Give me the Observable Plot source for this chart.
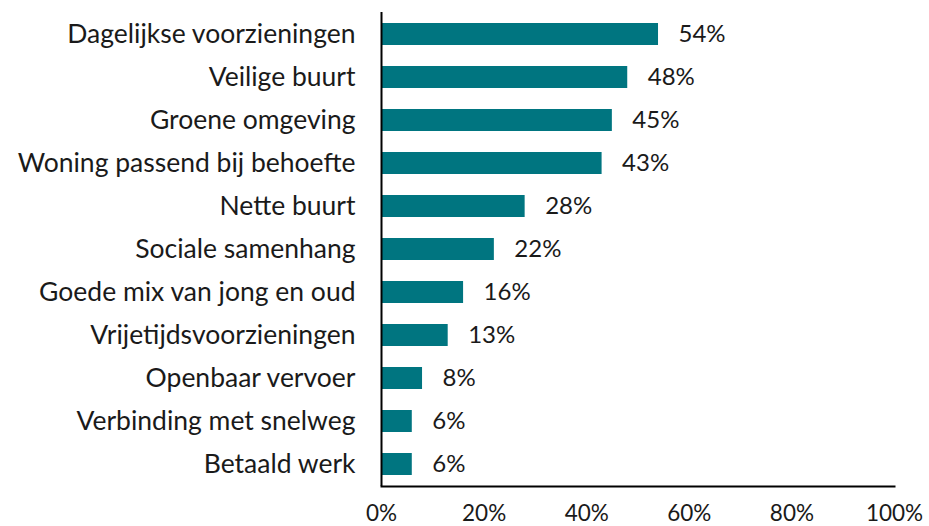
<!DOCTYPE html>
<html>
<head>
<meta charset="utf-8">
<script src="https://cdn.jsdelivr.net/npm/d3@7"></script>
<script src="https://cdn.jsdelivr.net/npm/@observablehq/plot@0.6"></script>
<style>
  html, body { margin: 0; padding: 0; background: #fff; }
  #chart { width: 929px; height: 526px; }
</style>
</head>
<body>
<div id="chart"></div>
<script>
const categories = [
  "Dagelijkse voorzieningen",
  "Veilige buurt",
  "Groene omgeving",
  "Woning passend bij behoefte",
  "Nette buurt",
  "Sociale samenhang",
  "Goede mix van jong en oud",
  "Vrijetijdsvoorzieningen",
  "Openbaar vervoer",
  "Verbinding met snelweg",
  "Betaald werk"
];
const values = [54, 48, 45, 43, 28, 22, 16, 13, 8, 6, 6];
const xTicks = [0, 20, 40, 60, 80, 100];

const data = categories.map((c, i) => ({category: c, value: values[i]}));

const chart = Plot.plot({
  width: 929,
  height: 526,
  marginLeft: 381,
  marginRight: 35,
  marginTop: 12,
  marginBottom: 40,
  style: {fontFamily: "Lato, sans-serif", color: "#1a1a1a", background: "#fff"},
  x: {domain: [0, 100], ticks: xTicks, tickFormat: d => d + "%", tickSize: 0, label: null},
  y: {domain: categories, paddingInner: 0.5, paddingOuter: 0.25, tickSize: 0, label: null},
  marks: [
    Plot.barX(data, {x: "value", y: "category", fill: "#007580"}),
    Plot.text(data, {x: "value", y: "category", text: d => d.value + "%", textAnchor: "start", dx: 20, fontSize: 24, fill: "#1a1a1a"}),
    Plot.ruleX([0], {stroke: "#000", strokeWidth: 2}),
    Plot.frame({anchor: "bottom", stroke: "#000", strokeWidth: 2}),
    Plot.axisX({ticks: xTicks, tickFormat: d => d + "%", tickSize: 0, tickPadding: 19, fontSize: 22.5, label: null}),
    Plot.axisY({tickSize: 0, tickPadding: 26, fontSize: 26.5, label: null})
  ]
});
document.getElementById("chart").appendChild(chart);
</script>
</body>
</html>
